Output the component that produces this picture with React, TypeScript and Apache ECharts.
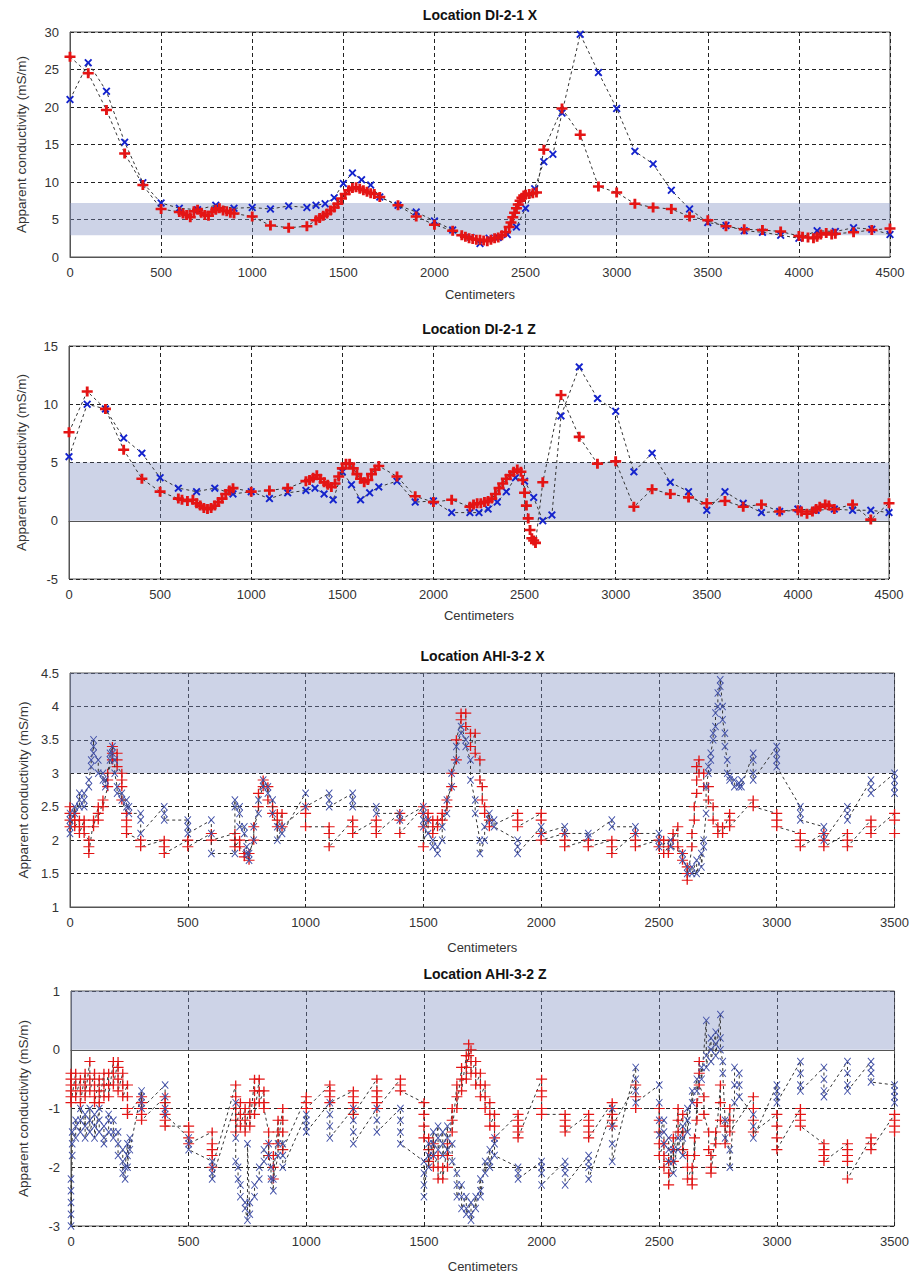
import React, { useEffect, useRef } from "react";
import * as echarts from "echarts";

// ---------- Data ----------
const titles = ["Location DI-2-1 X", "Location DI-2-1 Z", "Location AHI-3-2 X", "Location AHI-3-2 Z"];
const xMaxes = [4500, 4500, 3500, 3500];
const yMins = [0, -5, 1, -3];
const yMaxes = [30, 15, 4.5, 1];
const yIntervals = [5, 5, 0.5, 1];
const bands = [[2.9, 7.2], [0, 5], [3, 4.5], [0, 1]];

const diXRed = [[0,26.7],[100,24.5],[200,19.6],[300,13.8],[400,9.6],[500,6.4],[600,6.0],[620,5.8],[640,5.6],[660,5.3],[680,6.1],[700,6.3],[720,5.9],[740,5.6],[760,5.5],[780,6.0],[800,6.3],[820,6.5],[840,6.2],[860,6.1],[880,5.9],[900,5.8],[1000,5.4],[1100,4.2],[1200,3.9],[1300,4.1],[1350,4.9],[1370,5.2],[1390,5.5],[1410,5.8],[1430,6.2],[1450,6.6],[1470,7.1],[1490,7.8],[1510,8.4],[1530,8.9],[1550,9.2],[1570,9.3],[1590,9.1],[1610,8.9],[1630,8.7],[1650,8.5],[1670,8.4],[1700,8.0],[1800,6.9],[1900,5.4],[2000,4.3],[2100,3.5],[2150,2.9],[2170,2.7],[2190,2.5],[2210,2.4],[2230,2.3],[2250,2.3],[2270,2.2],[2290,2.1],[2310,2.3],[2330,2.5],[2350,2.6],[2370,2.9],[2390,3.3],[2410,4.0],[2420,4.6],[2430,5.3],[2440,5.9],[2450,6.5],[2460,7.0],[2470,7.5],[2480,7.9],[2490,8.2],[2500,8.3],[2520,8.4],[2540,8.5],[2560,8.6],[2600,14.3],[2700,19.8],[2800,16.3],[2900,9.4],[3000,8.6],[3100,7.1],[3200,6.6],[3300,6.4],[3400,5.4],[3500,4.9],[3600,4.1],[3700,3.7],[3800,3.6],[3900,3.4],[4000,2.8],[4020,2.7],[4050,2.6],[4080,2.5],[4100,2.7],[4120,3.0],[4150,3.2],[4180,3.0],[4200,3.1],[4300,3.3],[4400,3.6],[4500,3.8]];
const diXBlue = [[0,21.0],[100,25.9],[200,22.1],[300,15.3],[400,9.9],[500,7.2],[600,6.5],[700,6.3],[800,6.9],[900,6.5],[1000,6.6],[1100,6.4],[1200,6.8],[1300,6.6],[1350,6.9],[1400,7.1],[1450,7.9],[1500,9.8],[1550,11.2],[1600,10.3],[1650,9.6],[1700,8.0],[1800,6.9],[1900,6.0],[2000,4.8],[2100,3.6],[2200,2.6],[2250,1.8],[2300,2.5],[2350,2.6],[2400,3.0],[2450,4.0],[2500,6.5],[2550,9.1],[2600,12.7],[2650,13.7],[2700,19.2],[2800,29.7],[2900,24.6],[3000,19.8],[3100,14.1],[3200,12.4],[3300,8.9],[3400,6.4],[3500,4.6],[3600,4.2],[3700,3.5],[3800,3.3],[3900,2.9],[4000,2.5],[4100,3.5],[4200,3.4],[4300,3.9],[4400,3.7],[4500,3.0]];

const diZRed = [[0,7.6],[100,11.1],[200,9.6],[300,6.1],[400,3.6],[500,2.5],[600,1.9],[620,1.8],[650,1.7],[680,1.8],[700,1.5],[720,1.3],[740,1.1],[760,1.0],[780,1.1],[800,1.3],[820,1.6],[840,1.9],[860,2.3],[880,2.6],[900,2.8],[1000,2.5],[1100,2.6],[1200,2.8],[1300,3.4],[1320,3.5],[1340,3.7],[1360,3.9],[1380,3.6],[1400,3.3],[1420,3.1],[1440,2.9],[1460,3.2],[1480,3.8],[1500,4.5],[1520,4.9],[1540,4.9],[1560,4.5],[1580,4.0],[1600,3.6],[1620,3.3],[1640,3.5],[1660,4.0],[1680,4.4],[1700,4.7],[1800,3.8],[1900,2.1],[2000,1.6],[2100,1.8],[2200,1.2],[2220,1.4],[2240,1.5],[2260,1.5],[2280,1.6],[2300,1.7],[2320,1.9],[2340,2.3],[2360,2.8],[2380,3.2],[2400,3.6],[2420,3.9],[2440,4.2],[2460,4.4],[2480,4.2],[2490,3.5],[2500,2.4],[2510,1.3],[2520,0.2],[2530,-0.8],[2540,-1.5],[2550,-1.7],[2560,-1.9],[2600,3.3],[2700,10.8],[2800,7.2],[2900,4.9],[3000,5.1],[3100,1.2],[3200,2.7],[3300,2.3],[3400,2.0],[3500,1.5],[3600,1.7],[3700,1.2],[3800,1.4],[3900,0.8],[4000,0.9],[4020,0.8],[4050,0.6],[4080,0.8],[4100,1.0],[4120,1.2],[4150,1.4],[4170,1.3],[4200,1.0],[4300,1.4],[4400,0.1],[4500,1.5]];
const diZBlue = [[0,5.5],[100,10.0],[200,9.6],[300,7.1],[400,5.8],[500,3.7],[600,2.8],[700,2.5],[800,2.8],[900,2.3],[1000,2.5],[1100,1.9],[1200,2.4],[1300,2.6],[1350,2.8],[1400,2.3],[1450,1.8],[1500,4.2],[1550,3.1],[1600,1.8],[1650,2.4],[1700,2.9],[1800,3.4],[1900,1.6],[2000,1.7],[2100,0.7],[2200,0.7],[2250,0.7],[2300,1.0],[2350,1.6],[2400,2.5],[2450,3.7],[2500,3.4],[2550,2.0],[2600,0.0],[2650,0.5],[2700,9.0],[2800,13.2],[2900,10.5],[3000,9.4],[3100,4.2],[3200,5.8],[3300,3.3],[3400,2.5],[3500,0.9],[3600,2.5],[3700,1.5],[3800,0.7],[3900,0.8],[4000,1.0],[4100,0.9],[4200,1.0],[4300,0.9],[4400,0.9],[4500,0.7]];

// AHI stations: [position, readings at that position]
const ahiXRed = [[0,[2.5,2.4,2.3,2.2]],[20,[2.4,2.3,2.2]],[40,[2.3,2.2,2.1]],[60,[2.3,2.2,2.1]],[80,[2.0,1.9,1.8]],[100,[2.3,2.2]],[120,[2.5,2.4,2.3]],[140,[2.6,2.5]],[160,[2.8,2.9,3.0]],[180,[3.2,3.3,3.4]],[200,[3.3,3.2,3.1]],[220,[3.0,2.9,2.8,2.6]],[240,[2.4,2.3,2.2,2.1]],[300,[2.0,1.9]],[400,[2.0,1.9,1.8]],[500,[2.0,1.9]],[600,[2.1,2.0]],[700,[2.1,2.0,1.9]],[720,[2.0,1.9]],[740,[1.8,1.75]],[760,[1.7,1.8]],[780,[2.0,2.2]],[800,[2.5,2.7]],[820,[2.9,2.8]],[840,[2.8,2.6]],[860,[2.5,2.4]],[880,[2.4,2.3,2.2]],[900,[2.4,2.2]],[1000,[2.5,2.4,2.2]],[1100,[2.2,2.1,1.9]],[1200,[2.3,2.2,2.1]],[1300,[2.3,2.2,2.1]],[1400,[2.4,2.3,2.1]],[1500,[2.5,2.4,2.2,1.9]],[1520,[2.4,2.3]],[1540,[2.3,2.2,2.1]],[1560,[2.3,2.2]],[1580,[2.4,2.3]],[1600,[2.5,2.6]],[1620,[2.8,3.0]],[1640,[3.2,3.5]],[1660,[3.8,3.9]],[1680,[3.9,3.7]],[1700,[3.6,3.4]],[1720,[3.6,3.3]],[1740,[3.2,2.9]],[1750,[2.8,2.6]],[1760,[2.5,2.4]],[1780,[2.3,2.2]],[1900,[2.4,2.3,2.2]],[2000,[2.4,2.3,2.1,2.0]],[2100,[2.1,2.0,1.9]],[2200,[2.0,1.9]],[2300,[2.0,1.9,1.8]],[2400,[2.1,2.0,1.9]],[2500,[2.0,1.9]],[2520,[2.0,1.8]],[2540,[1.9,1.8]],[2560,[2.1,2.0]],[2580,[2.2,1.9]],[2600,[1.8,1.7]],[2620,[1.6,1.5,1.4]],[2640,[1.9,2.1]],[2650,[2.3,2.5]],[2660,[2.7,2.9,3.1]],[2670,[3.2,3.0]],[2690,[3.0,2.8]],[2710,[2.8,2.6]],[2730,[2.5,2.3]],[2750,[2.2,2.1]],[2770,[2.2,2.1]],[2800,[2.4,2.3,2.2]],[2900,[2.6,2.5]],[3000,[2.4,2.3,2.2]],[3100,[2.1,2.0,1.9]],[3200,[2.1,2.0,1.9]],[3300,[2.1,2.0,1.9]],[3400,[2.3,2.2,2.1]],[3500,[2.4,2.3,2.1]]];
const ahiXBlue = [[0,[2.4,2.3,2.2,2.1]],[20,[2.5,2.4]],[40,[2.6,2.7,2.5]],[60,[2.5,2.6,2.7]],[80,[2.8,2.9]],[90,[3.1,3.2]],[100,[3.4,3.5,3.3]],[120,[3.2,3.0]],[140,[3.0,2.9]],[150,[2.9,2.8]],[170,[3.2,3.3]],[180,[3.4,3.3]],[190,[3.2,3.0]],[200,[2.8,2.7]],[220,[2.7,2.6]],[240,[2.6,2.5]],[250,[2.5,2.4]],[300,[2.4,2.3,2.1]],[400,[2.5,2.4,2.3]],[500,[2.3,2.2,2.1]],[600,[2.3,2.1,1.8]],[700,[1.8,2.6,2.5]],[720,[2.5,2.4,2.2]],[740,[2.2,2.1]],[750,[1.9,1.8]],[760,[1.7,1.8]],[780,[2.0,2.2]],[800,[2.4,2.6]],[820,[2.8,2.9]],[840,[2.8,2.7]],[860,[2.6,2.4]],[880,[2.2,2.0]],[900,[2.2,2.1]],[1000,[2.7,2.5]],[1100,[2.7,2.6,2.5]],[1200,[2.7,2.6,2.5]],[1300,[2.5,2.4]],[1400,[2.4,2.3]],[1500,[2.5,2.4,2.3,2.2]],[1520,[2.3,2.1]],[1540,[2.0,1.9]],[1560,[1.8,1.9]],[1580,[2.0,2.2]],[1600,[2.4,2.6]],[1620,[2.8,3.0]],[1640,[3.2,3.4]],[1660,[3.6,3.7]],[1680,[3.5,3.4]],[1700,[3.2,2.9]],[1720,[2.6,2.4]],[1740,[2.0,1.8]],[1760,[2.0,2.2]],[1780,[2.4,2.3]],[1800,[2.3,2.2]],[1900,[2.0,1.9,1.8]],[2000,[2.2,2.1]],[2100,[2.2,2.1]],[2200,[2.1,2.05]],[2300,[2.3,2.2]],[2400,[2.2,2.1]],[2500,[2.1,2.0,1.9]],[2550,[2.0,1.9]],[2600,[1.8,1.7]],[2620,[1.6,1.5]],[2640,[1.6,1.5]],[2660,[1.7,1.5]],[2680,[1.8,1.6]],[2690,[1.9,2.0]],[2700,[2.4,2.8]],[2710,[3.0,3.1]],[2720,[3.2,3.3]],[2730,[3.5,3.6]],[2740,[3.7,3.9]],[2750,[4.0,4.2]],[2760,[4.3,4.4]],[2770,[4.0,3.8]],[2780,[3.6,3.4]],[2790,[3.2,3.0]],[2800,[2.95,2.9]],[2820,[2.9,2.8]],[2840,[2.85,2.8]],[2850,[2.9,2.8]],[2900,[3.3,3.2,3.0,2.9]],[3000,[3.4,3.3,3.2,3.1]],[3100,[2.5,2.4,2.3]],[3200,[2.2,2.1,2.0]],[3300,[2.5,2.4,2.3]],[3400,[2.9,2.8,2.7]],[3500,[3.0,2.9,2.8,2.7]]];

const ahiZRed = [[0,[-0.4,-0.5,-0.6,-0.7,-0.8,-0.9]],[20,[-0.4,-0.6,-0.8]],[40,[-0.5,-0.7,-0.9]],[60,[-0.4,-0.6,-0.8]],[80,[-0.2,-0.5,-0.7]],[100,[-0.4,-0.6,-0.8,-0.9]],[120,[-0.5,-0.7,-0.9]],[140,[-0.4,-0.6,-0.8]],[160,[-0.4,-0.6,-0.8]],[180,[-0.2,-0.4,-0.6]],[200,[-0.2,-0.3,-0.5,-0.7]],[220,[-0.4,-0.6,-0.8]],[240,[-0.6,-0.8,-1.0,-1.1]],[300,[-0.8,-0.9,-1.0,-1.1,-1.2]],[400,[-0.8,-0.9,-1.0,-1.1,-1.2,-1.3]],[500,[-1.3,-1.4,-1.5,-1.6]],[600,[-1.4,-1.6,-1.7,-1.8,-2.0]],[700,[-0.6,-0.8,-1.0,-1.2,-1.4]],[720,[-0.9,-1.1,-1.3]],[740,[-1.0,-1.2,-1.4]],[760,[-0.9,-1.1,-1.3]],[780,[-0.5,-0.7,-0.9,-1.1]],[800,[-0.5,-0.7,-0.9]],[820,[-0.7,-0.9,-1.0]],[840,[-1.4,-1.6,-1.8]],[860,[-1.8,-2.0,-2.2]],[880,[-1.2,-1.4,-1.6]],[900,[-1.0,-1.2,-1.4,-1.7]],[1000,[-0.8,-0.9,-1.0]],[1100,[-0.6,-0.7,-0.8,-0.9]],[1200,[-0.7,-0.8,-0.9,-1.0,-1.1]],[1300,[-0.5,-0.7,-0.8,-0.9,-1.0]],[1400,[-0.5,-0.6,-0.7]],[1500,[-0.9,-1.1,-1.3,-1.5]],[1520,[-1.5,-1.7,-1.9]],[1540,[-1.6,-1.8,-2.0]],[1560,[-1.8,-2.0,-2.2]],[1580,[-2.0,-2.2]],[1600,[-1.6,-1.8,-2.0]],[1620,[-1.0,-1.2,-1.4]],[1640,[-0.6,-0.8,-1.0]],[1660,[-0.3,-0.5,-0.7]],[1680,[-0.1,-0.3,-0.5]],[1690,[0.1,-0.1]],[1700,[0.0,-0.2,-0.4]],[1720,[-0.2,-0.4,-0.6]],[1740,[-0.4,-0.6,-0.8]],[1760,[-0.6,-0.8,-1.0]],[1780,[-0.9,-1.1,-1.3]],[1800,[-1.1,-1.3,-1.5]],[1900,[-1.1,-1.2,-1.3,-1.4,-1.5]],[2000,[-0.5,-0.7,-0.8,-1.0,-1.1]],[2100,[-1.1,-1.2,-1.3,-1.4]],[2200,[-1.1,-1.2,-1.3,-1.4,-1.5]],[2300,[-0.9,-1.0,-1.1,-1.2,-1.3]],[2400,[-0.6,-0.8,-1.0]],[2500,[-1.0,-1.2,-1.4,-1.6,-1.8]],[2520,[-1.6,-1.8,-2.0]],[2540,[-1.9,-2.1,-2.3]],[2560,[-1.5,-1.7,-1.9]],[2580,[-1.0,-1.2,-1.4]],[2600,[-1.1,-1.4,-1.7]],[2620,[-1.8,-2.0,-2.2]],[2640,[-2.0,-2.2,-2.3]],[2650,[-1.5,-1.8]],[2660,[-0.9,-1.2]],[2670,[-0.2,-0.4,-0.6]],[2690,[-0.8,-1.1]],[2710,[-1.4,-1.7]],[2720,[-1.8,-2.0,-2.1]],[2740,[-1.4,-1.6]],[2760,[-0.6,-0.9,-1.2]],[2780,[-1.3,-1.6]],[2800,[-1.0,-1.2,-1.4]],[2900,[-0.8,-1.0,-1.2,-1.4]],[3000,[-1.1,-1.3,-1.5,-1.7]],[3100,[-1.0,-1.1,-1.2,-1.3]],[3200,[-1.6,-1.7,-1.8,-1.9]],[3300,[-1.6,-1.7,-1.8,-1.9,-2.2]],[3400,[-1.5,-1.6,-1.7]],[3500,[-1.1,-1.2,-1.3,-1.4]]];
const ahiZBlue = [[0,[-2.2,-2.4,-2.6,-2.8,-3.0]],[5,[-1.8,-1.6,-1.4]],[20,[-1.5,-1.3,-1.2]],[40,[-1.4,-1.2,-1.0]],[60,[-1.3,-1.1,-1.5]],[80,[-1.2,-1.0,-1.4]],[100,[-1.1,-1.3,-1.5]],[120,[-1.0,-1.2,-1.4]],[140,[-1.3,-1.5,-1.6]],[160,[-1.4,-1.2,-1.1]],[180,[-1.2,-1.4,-1.5]],[200,[-1.4,-1.6,-1.8]],[220,[-1.7,-1.9,-2.1]],[230,[-2.2,-2.0]],[240,[-1.6,-1.8,-2.0]],[250,[-1.5,-1.7]],[300,[-0.7,-0.8,-0.9,-1.0]],[400,[-0.6,-0.8,-1.0,-1.1]],[500,[-1.5,-1.6,-1.7]],[600,[-1.9,-2.0,-2.1,-2.2]],[700,[-0.9,-1.5,-1.9]],[710,[-2.0,-2.2]],[720,[-2.3,-2.5]],[740,[-2.6,-2.7]],[750,[-2.9,-1.6]],[760,[-2.8,-2.6]],[780,[-2.5,-2.3]],[800,[-2.2,-2.0]],[820,[-1.9,-1.7]],[840,[-1.6,-1.8]],[850,[-2.0,-2.2]],[860,[-2.4,-2.2]],[880,[-1.8,-1.6]],[900,[-1.6,-1.8,-2.0]],[1000,[-1.1,-1.2,-1.3,-1.4]],[1100,[-0.9,-1.1,-1.3,-1.5]],[1200,[-1.0,-1.2,-1.4,-1.6]],[1300,[-1.0,-1.2,-1.4]],[1400,[-1.0,-1.2,-1.4,-1.6]],[1500,[-1.9,-2.1,-2.3,-2.5]],[1520,[-1.6,-1.8,-2.0]],[1540,[-1.4,-1.6,-1.8]],[1560,[-1.3,-1.5,-1.7]],[1580,[-1.4,-1.6,-1.8]],[1600,[-1.3,-1.5,-1.7]],[1620,[-1.6,-1.9]],[1640,[-2.1,-2.3,-2.5]],[1660,[-2.3,-2.5,-2.7]],[1680,[-2.5,-2.7,-2.8]],[1700,[-2.6,-2.8,-2.9]],[1720,[-2.5,-2.7]],[1740,[-2.2,-2.4,-2.5]],[1760,[-1.9,-2.1]],[1780,[-1.7,-1.9,-2.0]],[1800,[-1.5,-1.6,-1.8]],[1900,[-2.0,-2.1,-2.2]],[2000,[-1.9,-2.0,-2.1,-2.3]],[2100,[-1.9,-2.0,-2.1,-2.3]],[2200,[-1.8,-1.9,-2.0,-2.2]],[2300,[-1.0,-1.3,-1.6,-1.9]],[2400,[-0.3,-0.5,-0.7,-0.9]],[2500,[-0.6,-0.9,-1.2,-1.45]],[2520,[-1.2,-1.4,-1.6]],[2540,[-1.5,-1.7,-1.9]],[2560,[-1.7,-1.9,-2.1]],[2580,[-1.5,-1.7]],[2600,[-1.3,-1.5,-1.8]],[2620,[-1.0,-1.2,-1.4]],[2640,[-0.7,-0.9]],[2660,[-0.5,-0.7]],[2680,[-0.3,-0.5]],[2700,[0.5,-0.1,-0.3]],[2720,[0.2,0.0,-0.2]],[2740,[0.3,0.1,-0.1]],[2760,[0.6,0.2,0.0]],[2770,[-0.2,-0.4]],[2780,[-1.2,-1.5]],[2800,[-1.7,-2.0]],[2820,[-0.9,-0.6,-0.3]],[2840,[-0.4,-0.6,-0.8]],[2900,[-1.1,-1.3,-1.5]],[3000,[-0.6,-0.7,-0.8,-0.9]],[3100,[-0.2,-0.4,-0.6,-0.7]],[3200,[-0.3,-0.5,-0.7,-0.8]],[3300,[-0.2,-0.4,-0.6,-0.7]],[3400,[-0.2,-0.3,-0.4,-0.55]],[3500,[-0.6,-0.7,-0.8,-0.9]]];

// ---------- Styling ----------
const PLUS_BOLD = "path://M0,3.7H10V6.3H0Z M3.7,0H6.3V10H3.7Z";
const PLUS_THIN = "path://M0,4.4H10V5.6H0Z M4.4,0H5.6V10H4.4Z";
const CROSS_BOLD = "path://M0,1.7L1.7,0L5,3.3L8.3,0L10,1.7L6.7,5L10,8.3L8.3,10L5,6.7L1.7,10L0,8.3L3.3,5Z";
const CROSS_THIN = "path://M0,0.9L0.9,0L5,4.1L9.1,0L10,0.9L5.9,5L10,9.1L9.1,10L5,5.9L0.9,10L0,9.1L4.1,5Z";

const grids = [
  { left: 70, top: 32, width: 820, height: 225, nameGap: 31, yNameGap: 42 },
  { left: 69, top: 346, width: 820, height: 233, nameGap: 30, yNameGap: 41 },
  { left: 70, top: 673, width: 825, height: 234, nameGap: 34, yNameGap: 40 },
  { left: 71, top: 991, width: 828, height: 235, nameGap: 34, yNameGap: 41 },
];

const FONT = "Liberation Sans, Arial, sans-serif";

function flatten(stations: any[]) {
  const out: number[][] = [];
  stations.forEach(([x, vals]: any) => vals.forEach((v: number) => out.push([x, v])));
  return out;
}

export default function App() {
  const ref = useRef<HTMLDivElement>(null);
  useEffect(() => {
    if (!ref.current) return;
    const chart = echarts.init(ref.current, undefined, { renderer: "svg" });
    const seriesData = [
      { red: diXRed, blue: diXBlue, bold: true },
      { red: diZRed, blue: diZBlue, bold: true },
      { red: flatten(ahiXRed), blue: flatten(ahiXBlue), bold: false },
      { red: flatten(ahiZRed), blue: flatten(ahiZBlue), bold: false },
    ];
    const line = { color: "#333", width: 1, type: [3, 3] as any };
    const series: any[] = [];
    seriesData.forEach((d, i) => {
      const blueS = {
        type: "line",
        xAxisIndex: i,
        yAxisIndex: i,
        data: d.blue,
        symbol: d.bold ? CROSS_BOLD : CROSS_THIN,
        symbolSize: d.bold ? [8, 8] : [7, 8],
        showAllSymbol: true,
        itemStyle: { color: d.bold ? "rgb(20,35,205)" : "rgb(65,80,168)" },
        lineStyle: line,
        silent: true,
        z: d.bold ? 3 : 4,
      };
      const redS = {
        type: "line",
        xAxisIndex: i,
        yAxisIndex: i,
        data: d.red,
        symbol: d.bold ? PLUS_BOLD : PLUS_THIN,
        symbolSize: d.bold ? [11, 10] : [11, 9],
        showAllSymbol: true,
        itemStyle: { color: "rgb(228,20,20)" },
        lineStyle: line,
        silent: true,
        z: d.bold ? 4 : 3,
        markArea: {
          silent: true,
          itemStyle: { color: "rgba(130,145,195,0.4)" },
          data: [[{ yAxis: bands[i][0] }, { yAxis: bands[i][1] }]],
        },
      };
      series.push(blueS, redS);
    });

    const option: any = {
      animation: false,
      backgroundColor: "#fff",
      title: grids.map((g, i) => ({
        text: titles[i],
        left: g.left + g.width / 2,
        top: g.top - 24,
        textAlign: "center",
        padding: 0,
        textStyle: { fontFamily: FONT, fontSize: 14, fontWeight: "bold", color: "#111" },
      })),
      grid: grids.map((g) => ({
        left: g.left,
        top: g.top,
        width: g.width,
        height: g.height,
        show: true,
        borderColor: "#555",
        borderWidth: 1,
        backgroundColor: "transparent",
      })),
      xAxis: grids.map((g, i) => ({
        type: "value",
        gridIndex: i,
        min: 0,
        max: xMaxes[i],
        interval: 500,
        name: "Centimeters",
        nameLocation: "middle",
        nameGap: g.nameGap,
        nameTextStyle: { fontFamily: FONT, fontSize: 13, color: "#333" },
        axisLine: { show: true, lineStyle: { color: "#555" } },
        axisTick: { show: false },
        axisLabel: { fontFamily: FONT, fontSize: 13, color: "#333", margin: 9, formatter: (v: number) => String(v) },
        splitLine: { show: true, lineStyle: { color: "#222", type: [4, 3], width: 1 } },
      })),
      yAxis: grids.map((g, i) => ({
        type: "value",
        gridIndex: i,
        min: yMins[i],
        max: yMaxes[i],
        interval: yIntervals[i],
        name: "Apparent conductivity (mS/m)",
        nameLocation: "middle",
        nameGap: g.yNameGap,
        nameTextStyle: { fontFamily: FONT, fontSize: 13.5, color: "#333" },
        axisLine: { show: true, lineStyle: { color: "#555" } },
        axisTick: { show: false },
        axisLabel: { fontFamily: FONT, fontSize: 13, color: "#333", margin: 11, formatter: (v: number) => String(v) },
        splitLine: { show: true, lineStyle: { color: "#222", type: [4, 3], width: 1 } },
      })),
      series,
    };
    chart.setOption(option);
    return () => chart.dispose();
  }, []);
  return (
    <div
      ref={ref}
      style={{ position: "absolute", left: 0, top: 0, width: 912, height: 1275, background: "#fff" }}
    />
  );
}
